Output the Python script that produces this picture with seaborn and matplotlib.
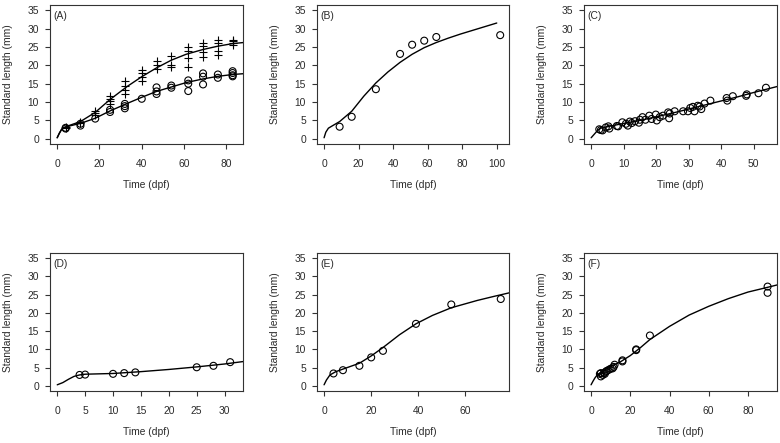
import matplotlib
matplotlib.use("Agg")
import matplotlib.pyplot as plt
import seaborn as sns

# ---- data ----
# (A) two groups: crosses and circles, several fish per sampling day
a_plus_days = [4, 4, 11, 11, 18, 18, 18, 25, 25, 25, 25, 32, 32, 32, 32,
               40, 40, 40, 40, 47, 47, 47, 54, 54, 54, 62, 62, 62, 62,
               69, 69, 69, 69, 76, 76, 76, 76, 83, 83, 83, 83]
a_plus_sl = [3.3, 3.0, 4.6, 4.2, 7.5, 6.6, 7.0, 11.6, 10.9, 10.2, 9.5, 15.7, 14.5, 13.4, 12.3,
             18.6, 17.9, 16.8, 15.7, 21.2, 20.2, 19.0, 22.5, 20.2, 19.6, 25.0, 24.0, 21.9, 19.6,
             26.1, 25.2, 23.7, 22.3, 27.0, 26.1, 23.9, 22.8, 27.0, 26.5, 26.0, 25.6]
a_circ_days = [4, 4, 11, 11, 18, 25, 25, 32, 32, 32, 40, 47, 47, 47, 54, 54,
               62, 62, 62, 69, 69, 69, 76, 76, 83, 83, 83, 83]
a_circ_sl = [3.0, 2.8, 4.1, 3.6, 5.5, 7.9, 7.3, 9.5, 8.9, 8.3, 10.9, 14.0, 12.9, 12.2, 14.5, 13.9,
             15.9, 15.0, 13.0, 17.8, 16.9, 14.8, 17.5, 16.6, 18.4, 17.9, 17.3, 17.0]
a_fit_t = [0, 1, 2, 3, 5, 11, 18, 25, 33, 40, 47, 54, 61, 69, 76, 83, 90]
a_fit_plus = [0.3, 1.5, 2.5, 3.0, 3.5, 4.7, 7.2, 10.7, 14.2, 16.9, 19.3, 21.4, 23.0, 24.3, 25.2, 25.9, 26.3]
a_fit_circ = [0.3, 1.5, 2.5, 3.0, 3.4, 4.2, 5.6, 7.6, 9.6, 11.3, 12.9, 14.1, 15.3, 16.3, 17.0, 17.5, 17.8]

# (B)
b_days = [9, 16, 30, 44, 51, 58, 65, 102]
b_sl = [3.3, 6.0, 13.5, 23.1, 25.6, 26.7, 27.7, 28.2]
b_fit_t = [0, 1, 2.5, 5, 9, 16, 23, 30, 37, 44, 51, 58, 65, 72, 79, 86, 93, 100]
b_fit_sl = [0.3, 1.8, 2.9, 3.6, 4.7, 7.5, 11.6, 15.2, 18.2, 20.8, 23.0, 24.8, 26.2, 27.4, 28.5, 29.5, 30.5, 31.5]

# (C)
c_days = [2.5, 3.0, 3.5, 4.5, 5.3, 5.6, 7.9, 8.3, 9.6, 10.7, 11.3, 11.9, 12.5, 13.5, 14.7,
          15.0, 15.8, 16.7, 17.9, 18.6, 19.9, 20.2, 21.1, 22.1, 23.7, 24.0, 24.2, 25.7, 28.3,
          29.8, 30.5, 31.3, 31.8, 32.8, 33.4, 33.9, 34.9, 36.7, 41.7, 41.9, 43.6, 47.7, 47.9,
          51.5, 53.8]
c_sl = [2.6, 2.4, 2.3, 3.1, 3.4, 2.8, 3.5, 3.4, 4.5, 4.1, 3.6, 4.7, 4.3, 4.8, 4.4,
        5.2, 5.9, 5.2, 6.3, 5.4, 6.6, 5.0, 5.9, 6.3, 7.2, 5.6, 6.9, 7.5, 7.5,
        7.5, 8.4, 8.7, 7.5, 9.0, 8.8, 8.1, 9.6, 10.4, 11.1, 10.4, 11.6, 11.7, 12.1,
        12.4, 13.9]
c_fit_t = [0, 1, 2, 3, 5, 10, 15, 20, 25, 30, 35, 40, 45, 50, 58]
c_fit_sl = [0.3, 1.3, 2.3, 2.9, 3.3, 4.2, 5.0, 6.0, 7.0, 8.1, 9.2, 10.3, 11.4, 12.6, 14.4]

# (D)
d_days = [4, 5, 10, 12, 14, 25, 28, 31]
d_sl = [3.0, 3.1, 3.3, 3.5, 3.7, 5.1, 5.5, 6.5]
d_fit_t = [0, 1, 2, 3, 4, 5, 10, 15, 20, 25, 30, 34]
d_fit_sl = [0.3, 0.9, 1.8, 2.6, 3.0, 3.2, 3.4, 3.9, 4.5, 5.2, 6.0, 6.8]

# (E)
e_days = [4, 8, 15, 20, 25, 39, 54, 75]
e_sl = [3.4, 4.3, 5.5, 7.8, 9.6, 17.0, 22.3, 23.8]
e_fit_t = [0, 1, 2.5, 5, 8, 15, 20, 25, 32, 39, 46, 54, 65, 72, 80]
e_fit_sl = [0.3, 1.6, 3.0, 3.9, 4.6, 6.2, 8.2, 10.5, 14.0, 17.0, 19.3, 21.4, 23.4, 24.5, 25.7]

# (F)
f_days = [4.5, 5, 5, 6, 6.5, 7, 7.5, 8, 9, 10, 11, 11.5, 12, 16, 16, 23, 23, 30, 90, 90]
f_sl = [3.3, 2.6, 3.5, 3.0, 3.5, 3.3, 3.9, 4.1, 4.4, 4.7, 4.8, 5.2, 5.8, 6.7, 7.0,
        9.8, 10.0, 13.8, 27.2, 25.5]
f_fit_t = [0, 1, 2, 3, 5, 7, 10, 15, 20, 25, 30, 40, 50, 60, 70, 80, 90, 96]
f_fit_sl = [0.3, 1.3, 2.2, 2.9, 3.6, 4.3, 5.3, 6.6, 8.3, 10.4, 12.7, 16.3, 19.4, 21.8, 23.9, 25.7, 27.0, 27.8]

y_ticks = [0, 5, 10, 15, 20, 25, 30, 35]

sns.set_theme(style="ticks")
plt.rcParams['font.family'] = ['Liberation Sans', 'DejaVu Sans']

TXT = '#2b2b2b'
W, H = 780, 443
fig = plt.figure(figsize=(W / 100, H / 100), dpi=100)

# axes boxes in pixels: (left, top, right, bottom)
cols = [(50, 243), (317, 509), (584, 777)]
rows = [(5, 144), (253, 391)]


def make_ax(col, row):
    l, r = cols[col]
    t, b = rows[row]
    ax = fig.add_axes([l / W, 1 - b / H, (r - l) / W, (b - t) / H])
    return ax, r - l, b - t


def style_ax(ax, w, h, label, xlim, xticks):
    ax.set_xlim(*xlim)
    ax.set_ylim(-1.4, 36.4)
    ax.set_xticks(xticks)
    ax.set_yticks(y_ticks)
    for sp in ax.spines.values():
        sp.set_color('#333333')
        sp.set_linewidth(0.8)
    ax.tick_params(axis='both', direction='out', length=3.6, width=0.8,
                   color='#333333', labelsize=7.4, labelcolor=TXT)
    ax.tick_params(axis='x', pad=7)
    ax.tick_params(axis='y', pad=4.3)
    ax.set_xlabel('Time (dpf)', fontsize=7.4, color=TXT)
    ax.set_ylabel('Standard length (mm)', fontsize=7.4, color=TXT)
    ax.xaxis.set_label_coords(0.5, -36 / h)
    ax.yaxis.set_label_coords(-37 / w, 0.5)
    ax.text(3 / w, 1 - 6 / h, label, transform=ax.transAxes, ha='left', va='top',
            fontsize=7.4, color=TXT)


def circles(ax, x, y):
    sns.scatterplot(x=x, y=y, ax=ax, marker='o', s=25, facecolors='none',
                    edgecolor='black', linewidth=0.8, zorder=3)


def curve(ax, x, y):
    sns.lineplot(x=x, y=y, ax=ax, color='black', linewidth=1.0,
                 estimator=None, sort=False, zorder=2)


# (A)
ax, w, h = make_ax(0, 0)
curve(ax, a_fit_t, a_fit_plus)
curve(ax, a_fit_t, a_fit_circ)
sns.scatterplot(x=a_plus_days, y=a_plus_sl, ax=ax, marker='+', s=38,
                color='black', linewidth=0.8, zorder=3)
circles(ax, a_circ_days, a_circ_sl)
style_ax(ax, w, h, '(A)', (-3.4, 87.9), [0, 20, 40, 60, 80])

# (B)
ax, w, h = make_ax(1, 0)
curve(ax, b_fit_t, b_fit_sl)
circles(ax, b_days, b_sl)
style_ax(ax, w, h, '(B)', (-4.1, 107.1), [0, 20, 40, 60, 80, 100])

# (C)
ax, w, h = make_ax(2, 0)
curve(ax, c_fit_t, c_fit_sl)
circles(ax, c_days, c_sl)
style_ax(ax, w, h, '(C)', (-2.2, 57.2), [0, 10, 20, 30, 40, 50])

# (D)
ax, w, h = make_ax(0, 1)
curve(ax, d_fit_t, d_fit_sl)
circles(ax, d_days, d_sl)
style_ax(ax, w, h, '(D)', (-1.3, 33.3), [0, 5, 10, 15, 20, 25, 30])

# (E)
ax, w, h = make_ax(1, 1)
curve(ax, e_fit_t, e_fit_sl)
circles(ax, e_days, e_sl)
style_ax(ax, w, h, '(E)', (-3.0, 78.5), [0, 20, 40, 60])

# (F)
ax, w, h = make_ax(2, 1)
curve(ax, f_fit_t, f_fit_sl)
circles(ax, f_days, f_sl)
style_ax(ax, w, h, '(F)', (-3.6, 94.8), [0, 20, 40, 60, 80])

fig.savefig('out.png', dpi=100)
